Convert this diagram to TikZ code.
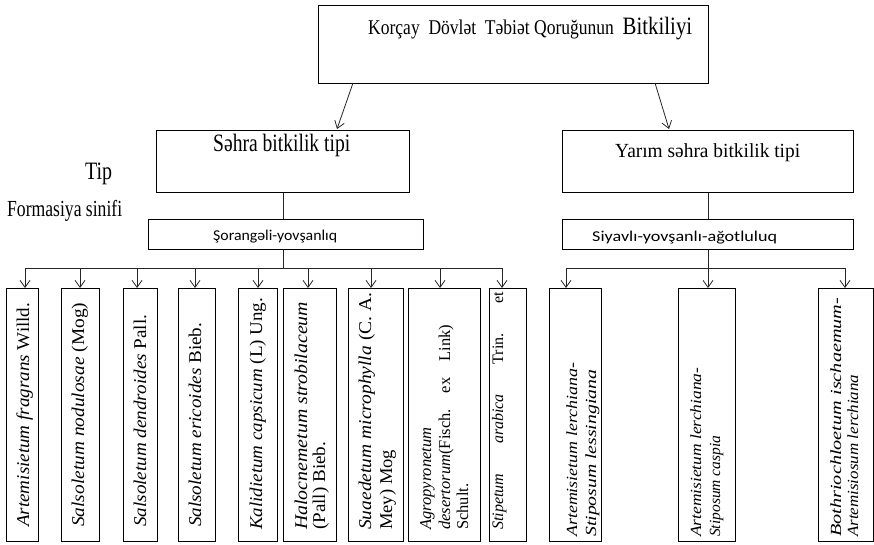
\documentclass[tikz,border=0pt]{standalone}
\usepackage{fontspec}
\usepackage{graphicx}
\setmainfont{Liberation Serif}
\newfontfamily\calfont{Carlito}
\usetikzlibrary{arrows.meta}
\newcommand\fitw[2]{\resizebox{#1}{\height}{#2}}
\begin{document}
\begin{tikzpicture}[x=1pt,y=1pt,
  box/.style={draw=black, line width=1pt, anchor=north west, inner sep=0pt},
  conn/.style={line width=0.8pt, draw=black!85},
  arr/.style={conn, -{Straight Barb[length=7pt,width=10pt,line width=0.8pt]}},
  lbl/.style={inner sep=0pt, anchor=base west},
  vlbl/.style={inner sep=0pt, anchor=base west, rotate=90},
  fa/.style={font=\fontsize{18}{20}\selectfont},
  fb/.style={font=\fontsize{16.5}{18}\selectfont},
  fc/.style={font=\fontsize{16}{18}\selectfont},
  fr/.style={font=\fontsize{15.5}{18}\selectfont\itshape},
]
\useasboundingbox (0,0) rectangle (874,544);
% boxes
\node[box, minimum width=390pt, minimum height=78pt] (top) at (318,539) {};
\node[box, minimum width=253pt, minimum height=62pt] (ltype) at (156,414) {};
\node[box, minimum width=291pt, minimum height=62pt] (rtype) at (562,414) {};
\node[box, minimum width=275pt, minimum height=30pt] (lform) at (148,325) {};
\node[box, minimum width=291pt, minimum height=30pt] (rform) at (562,325) {};
\node[box, minimum width=32pt, minimum height=253pt] (b1) at (6,256) {};
\node[box, minimum width=38pt, minimum height=253pt] (b2) at (61,256) {};
\node[box, minimum width=34pt, minimum height=253pt] (b3) at (123,256) {};
\node[box, minimum width=37pt, minimum height=253pt] (b4) at (178,256) {};
\node[box, minimum width=39pt, minimum height=253pt] (b5) at (238,256) {};
\node[box, minimum width=53pt, minimum height=253pt] (b6) at (283,256) {};
\node[box, minimum width=55pt, minimum height=253pt] (b7) at (348,256) {};
\node[box, minimum width=72pt, minimum height=253pt] (b8) at (408,256) {};
\node[box, minimum width=37pt, minimum height=253pt] (b9) at (489,256) {};
\node[box, minimum width=52pt, minimum height=253pt] (rA) at (549,256) {};
\node[box, minimum width=57pt, minimum height=253pt] (rB) at (678,256) {};
\node[box, minimum width=55pt, minimum height=253pt] (rC) at (818,256) {};
% horizontal texts
\node[lbl, font=\fontsize{21}{24}\selectfont] (title) at (368,509)
  {\fitw{324pt}{Korçay\ \ Dövlət\ \ Təbiət Qoruğunun\ \ {\fontsize{25}{28}\selectfont Bitkiliyi}}};
\node[lbl, font=\fontsize{25}{28}\selectfont] (ltypet) at (213,392) {\fitw{137pt}{Səhra bitkilik tipi}};
\node[lbl, font=\fontsize{20}{24}\selectfont] (rtypet) at (615,386) {\fitw{185pt}{Yarım səhra bitkilik tipi}};
\node[lbl, font=\fontsize{25}{28}\selectfont] (tip) at (85,364) {\fitw{27pt}{Tip}};
\node[lbl, font=\fontsize{23}{26}\selectfont] (formas) at (7,327) {\fitw{115pt}{Formasiya sinifi}};
\node[lbl, font=\fontsize{15}{18}\calfont] (lformt) at (213,303) {\fitw{124pt}{Şorangəli-yovşanlıq}};
\node[lbl, font=\fontsize{15}{18}\calfont] (rformt) at (592,302) {\fitw{185pt}{Siyavlı-yovşanlı-ağotluluq}};
% vertical texts
\node[vlbl, fa] (t1) at (29,17) {\fitw{224pt}{\textit{Artemisietum fragrans} Willd.}};
\node[vlbl, fa] (t2) at (84,17) {\fitw{224pt}{\textit{Salsoletum nodulosae} (Mog)}};
\node[vlbl, fa] (t3) at (146,17) {\fitw{212pt}{\textit{Salsoletum dendroides} Pall.}};
\node[vlbl, fa] (t4) at (201,17) {\fitw{204pt}{\textit{Salsoletum ericoides} Bieb.}};
\node[vlbl, fa] (t5) at (262,14) {\fitw{232pt}{\textit{Kalidietum capsicum} (L) Ung.}};
\node[vlbl, fa] (t6a) at (307,14) {\fitw{228pt}{\textit{Halocnemetum strobilaceum}}};
\node[vlbl, fa] (t6b) at (325,14) {\fitw{88pt}{(Pall) Bieb.}};
\node[vlbl, fa] (t7a) at (371,14) {\fitw{237pt}{\textit{Suaedetum microphylla} (C.\ A.}};
\node[vlbl, fa] (t7b) at (392,14) {\fitw{80pt}{Mey) Mog}};
\node[vlbl, fb] (t8a) at (431,14) {\textit{Agropyronetum}};
\node[vlbl, fb] (t8b) at (450,14) {\hbox to 205pt{\textit{desertorum}(Fisch.\hfill ex\hfill Link)}};
\node[vlbl, fb] (t8c) at (468,14) {Schult.};
\node[vlbl, fc] (t9) at (503,14) {\hbox to 238pt{\textit{Stipetum}\hfill\textit{arabica}\hfill Trin.\hfill et}};
\node[vlbl, fr] (tAa) at (577,7) {\fitw{174pt}{Artemisietum lerchiana-}};
\node[vlbl, fr] (tAb) at (596,7) {\fitw{167pt}{Stiposum lessingiana}};
\node[vlbl, fr] (tBa) at (701,7) {\fitw{169pt}{Artemisietum lerchiana-}};
\node[vlbl, fr] (tBb) at (720,7) {Stiposum caspia};
\node[vlbl, fr] (tCa) at (841,7) {\fitw{239pt}{Bothriochloetum ischaemum-}};
\node[vlbl, fr] (tCb) at (858,7) {\fitw{162pt}{Artemisiosum lerchiana}};
% connectors top
\coordinate (ts1) at (353,461);
\coordinate (te1) at (337,415);
\coordinate (ts2) at (655,461);
\coordinate (te2) at (669,415);
\draw[arr] (ts1) -- (te1);
\draw[arr] (ts2) -- (te2);
\draw[conn] (ltype.south) -- (ltype.south |- lform.north);
\draw[conn] (rtype.south) -- (rtype.south |- rform.north);
% left bar
\coordinate (lb) at (283,276);
\coordinate (lbL) at (25,276);
\coordinate (lbR) at (502,276);
\draw[conn] (ltype.south |- lform.south) -- (lb);
\draw[conn] (lbL) -- (lbR);
\foreach \x/\b in {25/b1,80/b2,137/b3,195/b4,258/b5,308/b6,371/b7,440/b8,502/b9}{
  \coordinate (a\b) at (\x,276);
  \draw[arr] (a\b) -- (a\b |- \b.north);
}
% right bar
\coordinate (rbL) at (566,276);
\coordinate (rbR) at (845,276);
\draw[conn] (rbL) -- (rbR);
\draw[arr] (rtype.south |- rform.south) -- (rtype.south |- rB.north);
\coordinate (arA) at (566,276);
\coordinate (arC) at (845,276);
\draw[arr] (arA) -- (arA |- rA.north);
\draw[arr] (arC) -- (arC |- rC.north);
\end{tikzpicture}
\end{document}
